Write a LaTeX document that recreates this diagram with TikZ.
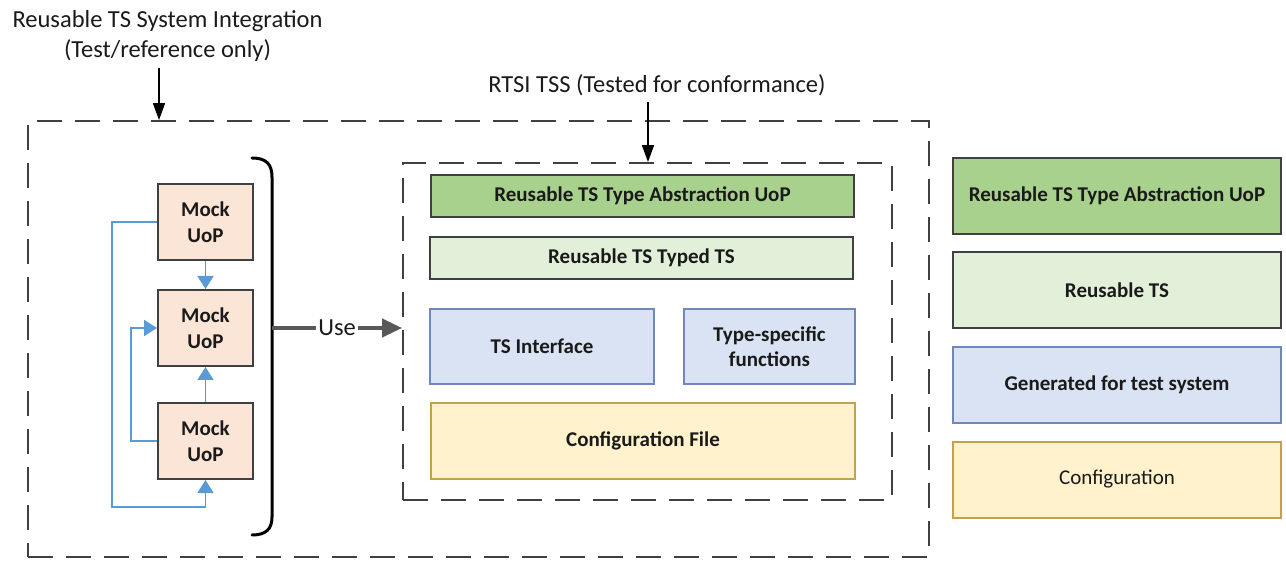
\documentclass[tikz,border=0pt]{standalone}
\usepackage{fontspec}
\setmainfont{Carlito}
\usetikzlibrary{arrows.meta}

\definecolor{edge}{HTML}{404040}
\definecolor{txt}{HTML}{1A1A1A}
\definecolor{absfill}{HTML}{A9D18E}
\definecolor{typedfill}{HTML}{E2F0D9}
\definecolor{genfill}{HTML}{DAE3F3}
\definecolor{genedge}{HTML}{7088B8}
\definecolor{cfgfill}{HTML}{FFF2CC}
\definecolor{cfgedge}{HTML}{C4A24A}
\definecolor{mockfill}{HTML}{FBE5D6}
\definecolor{link}{HTML}{5B9BD5}
\definecolor{usegray}{HTML}{595959}

\tikzset{
  big/.style={font=\fontsize{24.5}{30}\selectfont, text=txt, align=center, inner sep=0pt},
  layer/.style={draw=edge, line width=2pt, inner sep=0pt, align=center, text=txt,
    font=\fontsize{21}{25.5}\selectfont\bfseries},
  absbox/.style={layer, fill=absfill},
  typedbox/.style={layer, fill=typedfill},
  genbox/.style={layer, fill=genfill, draw=genedge},
  cfgbox/.style={layer, fill=cfgfill, draw=cfgedge},
  mockbox/.style={layer, fill=mockfill, minimum width=95pt, minimum height=76pt},
  dashbox/.style={draw=edge, line width=1.8pt, dash pattern=on 25pt off 13pt, inner sep=0pt},
  pointer/.style={draw=black, line width=1.5pt, -{Triangle[length=17pt,width=12pt]}},
  conn/.style={draw=link, line width=1.8pt, -{Triangle[length=13pt,width=16pt]}},
  usearrow/.style={draw=usegray, line width=4pt, -{Triangle[length=20pt,width=18pt]}},
  bracket/.style={draw=black, line width=3pt, line cap=round},
}

\begin{document}
\begin{tikzpicture}[x=1pt, y=-1pt]
\useasboundingbox (0,0) rectangle (1286,561);

% outer and inner dashed regions
\node[dashbox, minimum width=901pt, minimum height=436pt] (outer) at (478.5,339) {};
\node[dashbox, minimum width=489pt, minimum height=337pt] (inner) at (647.5,331.5) {};

% headings with their pointers
\node[big] (sysint) at (167.5,36) {Reusable TS System Integration\\(Test/reference only)};
\node[big] (rtsi) at (657,85) {RTSI TSS (Tested for conformance)};
\coordinate (p1) at (159,68);
\coordinate (p2) at (648,102);
\draw[pointer] (p1) -- (p1 |- outer.north);
\draw[pointer] (p2) -- (p2 |- inner.north);

% mock units
\node[mockbox] (mock1) at (205.5,222) {Mock\\UoP};
\node[mockbox] (mock2) at (205.5,328) {Mock\\UoP};
\node[mockbox] (mock3) at (205.5,441) {Mock\\UoP};

\coordinate (loopA) at (131,328);
\coordinate (loopB) at (112,507);
\draw[conn] (mock1.south) -- (mock2.north);
\draw[conn] (mock3.north) -- (mock2.south);
\draw[conn] (mock3.west) -| (loopA) -- (mock2.west);
\draw[conn] (mock1.west) -| (loopB) -| (mock3.south);

% grouping bracket and the use relation
\coordinate (brmid) at (272,328);
\draw[bracket] (252,158) .. controls (266,158) and (272,164) .. (272,177)
  -- (272,517) .. controls (272,529) and (266,535) .. (252,535);
\draw[usearrow] (brmid) -- (inner.west |- brmid)
  node[midway, fill=white, inner sep=2pt, font=\fontsize{24.5}{30}\selectfont, text=txt] {Use};

% layers inside the conformance region
\node[absbox, minimum width=423pt, minimum height=42pt] (abs) at (642.5,196) {Reusable TS Type Abstraction UoP};
\node[typedbox, minimum width=423pt, minimum height=42pt] (typed) at (641.5,258) {Reusable TS Typed TS};
\node[genbox, minimum width=224pt, minimum height=75pt] (tsi) at (542,346.5) {TS Interface};
\node[genbox, minimum width=171pt, minimum height=75pt] (tsf) at (769.5,346.5) {Type-specific\\functions};
\node[cfgbox, minimum width=424pt, minimum height=76pt] (cfg) at (643,441) {Configuration File};

% key
\node[absbox, minimum width=328pt, minimum height=76pt] (kabs) at (1117,196) {Reusable TS Type Abstraction UoP};
\node[typedbox, minimum width=328pt, minimum height=76pt] (ktyped) at (1117,290.5) {Reusable TS};
\node[genbox, minimum width=328pt, minimum height=76pt] (kgen) at (1117,385) {Generated for test system};
\node[cfgbox, minimum width=328pt, minimum height=76pt, font=\fontsize{21}{25.5}\selectfont] (kcfg) at (1117,479.5) {Configuration};
\end{tikzpicture}
\end{document}
